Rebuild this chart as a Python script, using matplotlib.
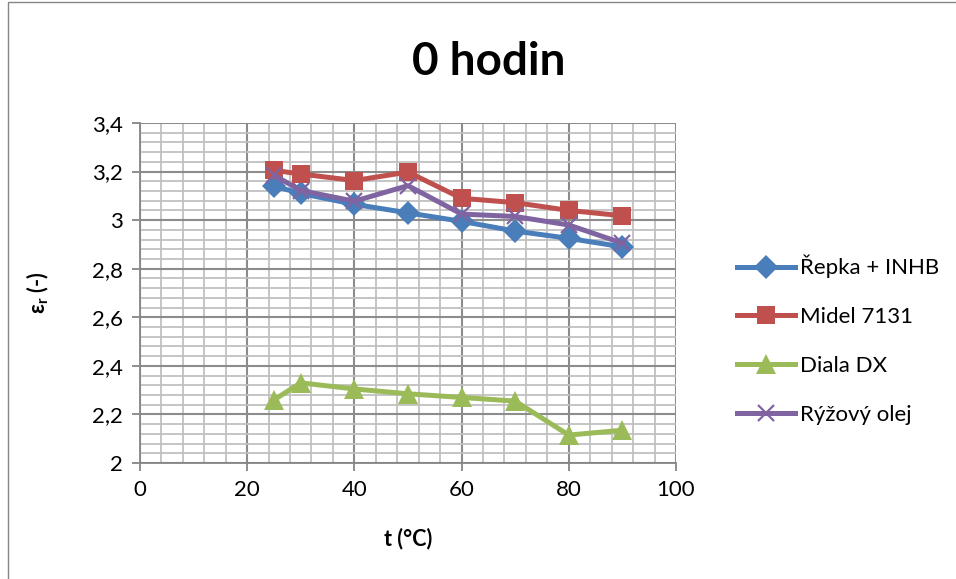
import numpy as np
import matplotlib.pyplot as plt
from matplotlib.ticker import MultipleLocator, FuncFormatter
from matplotlib.patches import Rectangle

# teplota (°C) a relativni permitivita pro jednotlive oleje
t = [25, 30, 40, 50, 60, 70, 80, 90]
repka = [3.14, 3.11, 3.065, 3.03, 2.995, 2.955, 2.925, 2.89]
midel = [3.205, 3.19, 3.163, 3.198, 3.09, 3.072, 3.04, 3.018]
diala = [2.26, 2.33, 2.305, 2.285, 2.27, 2.255, 2.115, 2.135]
ryze = [3.185, 3.122, 3.078, 3.142, 3.025, 3.015, 2.98, 2.905]

series = [
    ("Řepka + INHB", repka, "#4A7EBB", "D", 12),
    ("Midel 7131", midel, "#C0504D", "s", 13),
    ("Diala DX", diala, "#9BBB59", "^", 14),
    ("Rýžový olej", ryze, "#8064A2", "x", 12),
]

plt.rcParams["font.family"] = ["Lato", "DejaVu Sans"]


def main():
    fig = plt.figure(figsize=(9.56, 5.79), dpi=100)
    ax = fig.add_axes([0.1464, 0.2003, 0.5607, 0.5873])

    for name, y, color, marker, ms in series:
        kw = dict(color=color, lw=3.6, marker=marker, markersize=ms,
                  label=name, solid_joinstyle="round")
        if marker == "x":
            kw.update(markeredgewidth=1.6)
        else:
            kw.update(markeredgewidth=0)
        ax.plot(t, y, **kw)

    ax.set_xlim(0, 100)
    ax.set_ylim(2, 3.4)
    ax.xaxis.set_major_locator(MultipleLocator(20))
    ax.xaxis.set_minor_locator(MultipleLocator(4))
    ax.yaxis.set_major_locator(MultipleLocator(0.2))
    ax.yaxis.set_minor_locator(MultipleLocator(0.04))
    ax.yaxis.set_major_formatter(
        FuncFormatter(lambda v, p: f"{v:.1f}".rstrip("0").rstrip(".").replace(".", ",")))

    ax.grid(which="major", color="#8c8c8c", lw=1.5)
    ax.grid(which="minor", color="#c0c0c0", lw=1.3)
    ax.set_axisbelow(True)
    for side in ("top", "right"):
        ax.spines[side].set_visible(False)
    for side in ("left", "bottom"):
        ax.spines[side].set_color("#868686")
        ax.spines[side].set_linewidth(1.3)
    ax.tick_params(which="major", length=6, width=1.3, color="#868686",
                   labelsize=16, pad=6)
    ax.tick_params(which="minor", length=0)

    ax.set_xlabel("t (°C)", fontsize=15.5, fontweight="bold", labelpad=20)
    ax.set_ylabel(r"ε$_\mathregular{r}$ (-)", fontsize=15.5, fontweight="bold", labelpad=30)
    fig.text(0.511, 0.893, "0 hodin", ha="center", va="center",
             fontsize=33, fontweight="bold")

    ax.legend(loc="center left", bbox_to_anchor=(1.076, 0.362), frameon=False,
              fontsize=16, handlelength=2.6, labelspacing=1.3, handletextpad=0.25)

    # ramecek kolem celeho grafu
    fig.patches.append(Rectangle((8 / 956, -0.1), 1.2, 1.1 - 2 / 579,
                                 transform=fig.transFigure, fill=False,
                                 ec="#868686", lw=1.0))

    fig.savefig("out.png", dpi=100)


if __name__ == "__main__":
    main()
